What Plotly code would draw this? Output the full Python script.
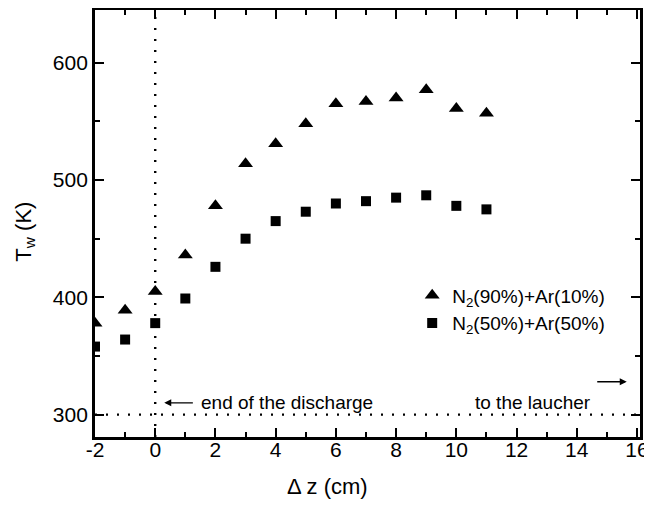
import plotly.graph_objects as go

dz = [-2, -1, 0, 1, 2, 3, 4, 5, 6, 7, 8, 9, 10, 11]
tw_n90 = [378, 389, 405, 436, 478, 514, 531, 548, 565, 567, 570, 577, 561, 557]
tw_n50 = [358, 364, 378, 399, 426, 450, 465, 473, 480, 482, 485, 487, 478, 475]
name_n90 = "N<sub>2</sub>(90%)+Ar(10%)"
name_n50 = "N<sub>2</sub>(50%)+Ar(50%)"
x_ticks = [-2, 0, 2, 4, 6, 8, 10, 12, 14, 16]
x_ticktext = ["-2", "0", "2", "4", "6", "8", "10", "12", "14", "16"]
y_ticks = [300, 400, 500, 600]

FONT = "Liberation Sans, Arial, sans-serif"

fig = go.Figure()
fig.add_trace(go.Scatter(x=dz, y=tw_n90, mode="markers", name=name_n90,
                         marker=dict(symbol="triangle-up", size=13, color="black")))
fig.add_trace(go.Scatter(x=dz, y=tw_n50, mode="markers", name=name_n50,
                         marker=dict(symbol="square", size=10, color="black")))

# dotted reference lines
fig.add_shape(type="line", xref="x", yref="paper", x0=0, x1=0, y0=0, y1=1,
              line=dict(color="black", width=2.4, dash="2px,9px"))
fig.add_shape(type="line", xref="paper", yref="y", x0=0, x1=1, y0=300, y1=300,
              line=dict(color="black", width=2.4, dash="2px,9px"))

fig.add_annotation(x=0.3, y=310, xref="x", yref="y", ax=1.3, ay=310, axref="x", ayref="y",
                   text="", showarrow=True, arrowhead=2, arrowsize=1, arrowwidth=1.4,
                   arrowcolor="black")
fig.add_annotation(x=1.45, y=310, xref="x", yref="y", text="end of the discharge",
                   showarrow=False, xanchor="left", yanchor="middle",
                   font=dict(size=19, color="black", family=FONT))
fig.add_annotation(x=10.55, y=310, xref="x", yref="y", text="to the laucher",
                   showarrow=False, xanchor="left", yanchor="middle",
                   font=dict(size=19, color="black", family=FONT))
fig.add_annotation(x=15.66, y=328, xref="x", yref="y", ax=14.63, ay=328, axref="x", ayref="y",
                   text="", showarrow=True, arrowhead=2, arrowsize=1, arrowwidth=1.4,
                   arrowcolor="black")

# axis titles
fig.add_annotation(x=0.4275, y=-0.117, xref="paper", yref="paper", text="\u0394 z (cm)",
                   showarrow=False, xanchor="center", yanchor="middle",
                   font=dict(size=22, color="black", family=FONT))
fig.add_annotation(x=-0.128, y=0.4815, xref="paper", yref="paper", text="T<sub>w</sub> (K)",
                   textangle=-90, showarrow=False, xanchor="center", yanchor="middle",
                   font=dict(size=22, color="black", family=FONT))

axis_common = dict(showline=True, linecolor="black", linewidth=2.8, mirror="ticks",
                   ticks="inside", ticklen=9, tickwidth=2.4, tickcolor="black",
                   showgrid=False, zeroline=False, automargin=False,
                   tickfont=dict(size=21, color="black", family=FONT))

fig.update_xaxes(range=[-2, 16.1], tickvals=x_ticks, ticktext=x_ticktext,
                 ticklabelstandoff=-8,
                 minor=dict(dtick=1, ticks="inside", ticklen=5, tickwidth=2.4, tickcolor="black",
                            showgrid=False),
                 **axis_common)
fig.update_yaxes(range=[280.9, 645.0], tickvals=y_ticks,
                 minor=dict(dtick=50, ticks="inside", ticklen=5, tickwidth=2.4, tickcolor="black",
                            showgrid=False),
                 **axis_common)

fig.update_layout(
    width=644, height=500,
    margin=dict(l=87, r=12, t=1.5, b=71.3),
    paper_bgcolor="white", plot_bgcolor="white",
    showlegend=True,
    legend=dict(x=0.582, y=0.376, xanchor="left", yanchor="top",
                bgcolor="rgba(0,0,0,0)", tracegroupgap=0,
                font=dict(size=19, color="black", family=FONT)),
)

fig.write_html("out.html")
